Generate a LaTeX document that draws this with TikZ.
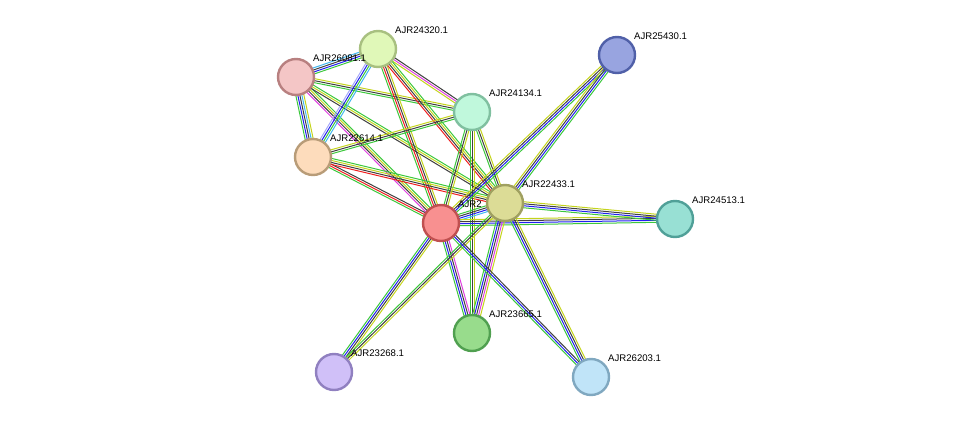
\documentclass[tikz,border=0pt]{standalone}
\usepackage{fontspec}
\setmainfont{Liberation Sans}
\usetikzlibrary{calc}
\definecolor{eg}{HTML}{3CC83C}\definecolor{eb}{HTML}{2020F0}\definecolor{ek}{HTML}{404040}
\definecolor{ey}{HTML}{C4D41C}\definecolor{er}{HTML}{F02020}\definecolor{em}{HTML}{E040E0}
\definecolor{ec}{HTML}{40B8F0}\definecolor{el}{HTML}{A8A8F8}
\newcommand{\myedge}[3]{%
 \foreach \c [count=\i] in {#3}{\xdef\nn{\i}}%
 \foreach \c [count=\i] in {#3}{%
  \pgfmathsetmacro{\off}{(\i-(\nn+1)/2)*2.0}%
  \draw[line width=1pt,draw=\c] ($(#1)!\off pt!90:(#2)$) -- ($(#2)!\off pt!-90:(#1)$);}}
\tikzset{pn/.style={circle,minimum size=36pt,inner sep=0,line width=2.4pt},
 lb/.style={anchor=south west,font=\fontsize{9.6}{11}\selectfont,inner sep=0}}
\newcommand{\pnode}[5]{%
 \node[pn,fill={#3},draw={#4}] (n#1) at (#2) {};
 \node[lb] (l#1) at ($(#2)+(17,-15)$) {#5};}
\begin{document}
\begin{tikzpicture}[x=1pt,y=-1pt]
\useasboundingbox (0,0) rectangle (975,423);
\coordinate (A) at (378,49);\coordinate (B) at (296,77);\coordinate (C) at (472,112);
\coordinate (D) at (313,157);\coordinate (E) at (505,203);\coordinate (R) at (441,223);
\coordinate (F) at (617,55);\coordinate (G) at (675,219);\coordinate (H) at (472,333);
\coordinate (I) at (334,372);\coordinate (J) at (591,377);
\myedge{B}{A}{eg,eb,ek,ec}
\myedge{B}{D}{eg,eb,ek,ec,ey}
\myedge{B}{C}{eg,ek,ey}
\myedge{B}{R}{em,ek,ey,eg}
\myedge{B}{E}{ek,ey,eg}
\myedge{A}{D}{el,eb,eg,ec}
\myedge{A}{C}{ey,em,ek}
\myedge{A}{R}{eg,er,ek,ey}
\myedge{A}{E}{er,ek,ey,eg}
\myedge{D}{C}{eg,ek,ey}
\myedge{D}{R}{eg,er,ek}
\myedge{D}{E}{er,ek,ey,eg}
\myedge{C}{R}{eg,ek,ey}
\myedge{C}{E}{eg,ek,ey}
\myedge{C}{H}{eg,ek,ey}
\myedge{R}{E}{ec,eb,ek,eg}
\myedge{R}{F}{eg,eb,ek,ey}
\myedge{E}{F}{eg,eb,ek,ey}
\myedge{R}{G}{eg,eb,ek,ey}
\myedge{E}{G}{eg,eb,ek,ey}
\myedge{R}{H}{eg,eb,ek,em}
\myedge{E}{H}{eg,eb,ek,em,ey}
\myedge{R}{I}{eg,eb,ek,ey}
\myedge{E}{I}{eg,ek,ey}
\myedge{R}{J}{eg,eb,ek}
\myedge{E}{J}{eg,eb,ek,ey}
\definecolor{fA}{HTML}{E0F8B8}\definecolor{dA}{HTML}{A8C080}
\definecolor{fB}{HTML}{F4C6C6}\definecolor{dB}{HTML}{B88080}
\definecolor{fC}{HTML}{C0F8DC}\definecolor{dC}{HTML}{80C0A0}
\definecolor{fD}{HTML}{FDDCBC}\definecolor{dD}{HTML}{B89C78}
\definecolor{fE}{HTML}{DCDC96}\definecolor{dE}{HTML}{A0A060}
\definecolor{fR}{HTML}{F89090}\definecolor{dR}{HTML}{C05050}
\definecolor{fF}{HTML}{98A4E0}\definecolor{dF}{HTML}{5060A8}
\definecolor{fG}{HTML}{98E0D4}\definecolor{dG}{HTML}{50A098}
\definecolor{fH}{HTML}{98DC8C}\definecolor{dH}{HTML}{50A050}
\definecolor{fI}{HTML}{D0C0F8}\definecolor{dI}{HTML}{9080C0}
\definecolor{fJ}{HTML}{C0E4F8}\definecolor{dJ}{HTML}{80A8C0}
\pnode{A}{A}{fA}{dA}{AJR24320.1}
\pnode{B}{B}{fB}{dB}{AJR26081.1}
\pnode{C}{C}{fC}{dC}{AJR24134.1}
\pnode{D}{D}{fD}{dD}{AJR22614.1}
\pnode{R}{R}{fR}{dR}{AJR2}
\pnode{E}{E}{fE}{dE}{AJR22433.1}
\pnode{F}{F}{fF}{dF}{AJR25430.1}
\pnode{G}{G}{fG}{dG}{AJR24513.1}
\pnode{H}{H}{fH}{dH}{AJR23665.1}
\pnode{I}{I}{fI}{dI}{AJR23268.1}
\pnode{J}{J}{fJ}{dJ}{AJR26203.1}
\end{tikzpicture}
\end{document}
